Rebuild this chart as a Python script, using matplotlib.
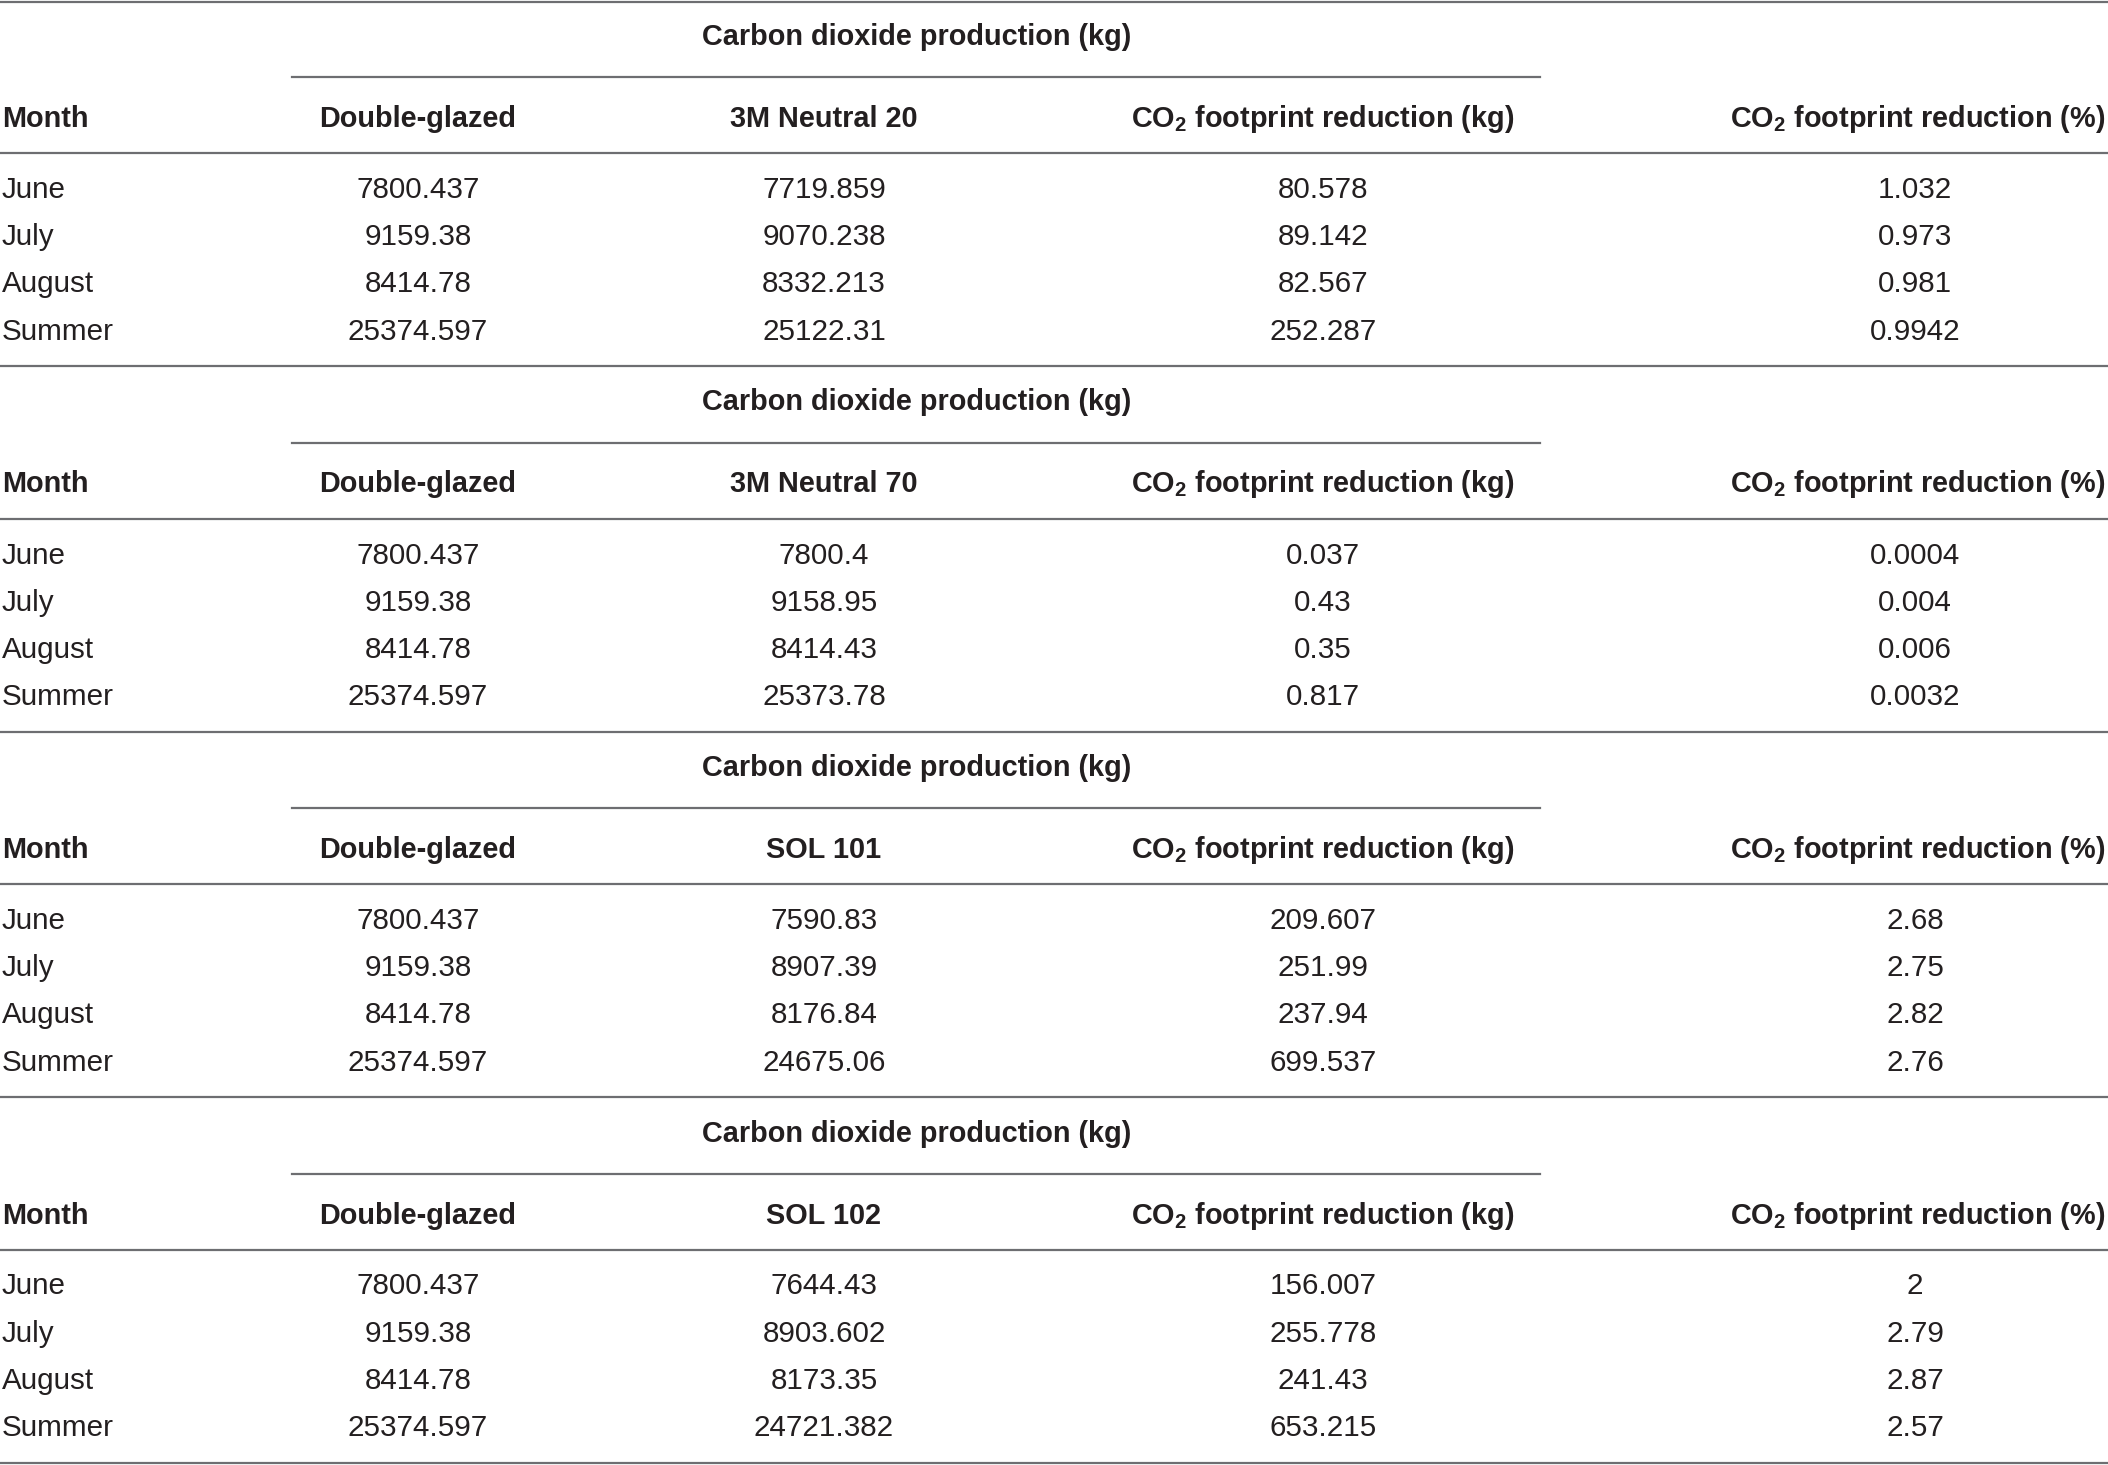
import numpy as np
import matplotlib
matplotlib.use("Agg")
import matplotlib.pyplot as plt

plt.rcParams.update({'font.family': 'Liberation Sans', 'mathtext.fontset': 'custom',
                     'mathtext.rm': 'Liberation Sans', 'mathtext.bf': 'Liberation Sans:bold'})

months = ["June", "July", "August", "Summer"]
double_glazed = ["7800.437", "9159.38", "8414.78", "25374.597"]

films = ["3M Neutral 20", "3M Neutral 70", "SOL 101", "SOL 102"]
film_values = [
    ["7719.859", "9070.238", "8332.213", "25122.31"],
    ["7800.4", "9158.95", "8414.43", "25373.78"],
    ["7590.83", "8907.39", "8176.84", "24675.06"],
    ["7644.43", "8903.602", "8173.35", "24721.382"],
]
reduction_kg = [
    ["80.578", "89.142", "82.567", "252.287"],
    ["0.037", "0.43", "0.35", "0.817"],
    ["209.607", "251.99", "237.94", "699.537"],
    ["156.007", "255.778", "241.43", "653.215"],
]
reduction_pct = [
    ["1.032", "0.973", "0.981", "0.9942"],
    ["0.0004", "0.004", "0.006", "0.0032"],
    ["2.68", "2.75", "2.82", "2.76"],
    ["2", "2.79", "2.87", "2.57"],
]

group_title = "Carbon dioxide production (kg)"
head_kg = r"CO$_\mathbf{2}$ footprint reduction (kg)"
head_pct = r"CO$_\mathbf{2}$ footprint reduction (%)"

W, H = 2108, 1465
fig = plt.figure(figsize=(W / 100, H / 100), dpi=100)
ax = fig.add_axes([0, 0, 1, 1])
ax.set_xlim(0, W)
ax.set_ylim(H, 0)
ax.axis('off')

txt = '#231f20'
rule = '#6d6e71'
fs_head = 20.8
fs_body = 21.3
col_x = [418, 824, 1323, 1915]
sec_h = 365.5

ax.axhline(1.5, color=rule, lw=1.6)
for s in range(len(films)):
    y0 = s * sec_h
    ax.text(917, y0 + 37, group_title, ha='center', va='center', fontsize=fs_head,
            fontweight='bold', color=txt)
    ax.plot([292, 1540], [y0 + 77, y0 + 77], color=rule, lw=1.6)
    hy = y0 + 119
    ax.text(2, hy, "Month", ha='left', va='center', fontsize=fs_head, fontweight='bold', color=txt)
    ax.text(col_x[0], hy, "Double-glazed", ha='center', va='center', fontsize=fs_head,
            fontweight='bold', color=txt)
    ax.text(col_x[1], hy, films[s], ha='center', va='center', fontsize=fs_head,
            fontweight='bold', color=txt)
    ax.text(col_x[2], hy, head_kg, ha='center', va='center', fontsize=fs_head,
            fontweight='bold', color=txt)
    ax.text(2105, hy, head_pct, ha='right', va='center', fontsize=fs_head,
            fontweight='bold', color=txt)
    ax.axhline(y0 + 153, color=rule, lw=1.6)
    for i, m in enumerate(months):
        ry = y0 + 190 + i * 47.2
        ax.text(2, ry, m, ha='left', va='center', fontsize=fs_body, color=txt)
        cols = [double_glazed[i], film_values[s][i], reduction_kg[s][i], reduction_pct[s][i]]
        for cx, v in zip(col_x, cols):
            ax.text(cx, ry, v, ha='center', va='center', fontsize=fs_body, color=txt)
    ax.axhline(y0 + sec_h + 0.5, color=rule, lw=1.6)

fig.savefig("out.png", dpi=100)
